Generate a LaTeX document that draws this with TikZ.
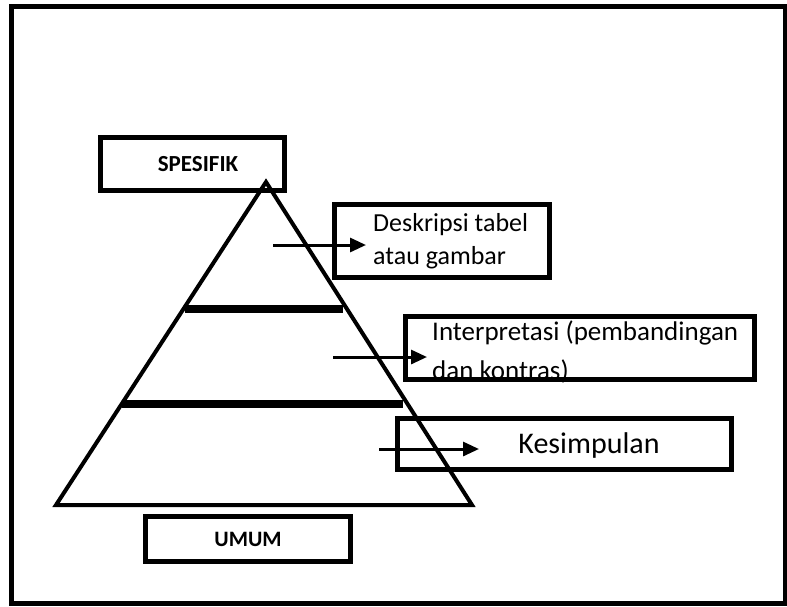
\documentclass[tikz,border=0pt]{standalone}
\usepackage{fontspec}
\setmainfont{Carlito}
\usetikzlibrary{arrows.meta,positioning}

\begin{document}
\begin{tikzpicture}[x=1pt,y=-1pt,
    kotak/.style={draw,line width=5pt,inner sep=0pt},
    judul/.style={font=\bfseries\fontsize{22}{26}\selectfont},
    isi/.style={inner sep=0pt,align=left},
    panah/.style={line width=3pt,-{Triangle[length=16pt,width=14pt]}}]
    \useasboundingbox (0,0) rectangle (787,606);
    \draw[line width=5pt] (11.5,6.5) rectangle (785,603);

    % piramida
    \coordinate (puncak) at (266,182);
    \coordinate (kiri) at (56,505);
    \coordinate (kanan) at (472,505);
    \draw[line width=4pt] (puncak) -- (kiri) -- (kanan) -- cycle;
    \draw[line width=8pt] (185,309) -- (343,309);
    \draw[line width=8pt] (122,404) -- (403,404);

    \node[kotak,minimum width=184pt,minimum height=53pt] (spesifik) at (192.5,164) {};
    \node[judul,font=\bfseries\fontsize{23}{26}\selectfont] (teksspe) at (198,164.5) {SPESIFIK};
    \node[kotak,judul,minimum width=205pt,minimum height=45pt] (umum) at (248,539) {UMUM};

    \node[kotak,minimum width=215pt,minimum height=73pt] (deskripsi) at (442,241) {};
    \node[kotak,minimum width=349pt,minimum height=63pt] (interpretasi) at (580,348) {};
    \node[kotak,minimum width=334pt,minimum height=51pt] (kesimpulan) at (564.5,444) {};

    \node[isi,font=\fontsize{26}{33}\selectfont,anchor=north west] (teksdes) at (373,213) {Deskripsi tabel\\atau gambar};
    \node[isi,font=\fontsize{27}{39}\selectfont,anchor=north west] (teksint) at (432,321) {Interpretasi (pembandingan\\dan kontras)};
    \node[isi,font=\fontsize{30}{36}\selectfont,anchor=base] (tekskes) at (589,453) {Kesimpulan};

    \foreach \i/\xa/\xb/\y in {1/273/366/245,2/333/427/357,3/379/479/449}{
        \coordinate (awal\i) at (\xa,\y);
        \coordinate (ujung\i) at (\xb,\y);
        \draw[panah] (awal\i) -- (ujung\i);
    }
\end{tikzpicture}
\end{document}
